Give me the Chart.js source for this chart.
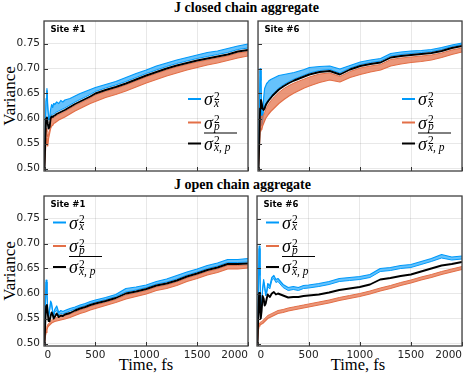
<!DOCTYPE html>
<html><head><meta charset="utf-8">
<script src="https://cdn.jsdelivr.net/npm/chart.js@4.4.1/dist/chart.umd.min.js"></script>
<style>
html,body{margin:0;padding:0;background:#fff;}
#wrap{position:relative;width:464px;height:376px;overflow:hidden;background:#fff;}
#wrap canvas{position:absolute;}
.t{position:absolute;white-space:nowrap;color:#000;font-family:"Liberation Serif","DejaVu Serif",serif;}
</style></head><body><div id="wrap">
<div class="t" style="left:146.5px;width:200px;text-align:center;top:1px;font-size:14px;line-height:14px;font-weight:bold">J closed chain aggregate</div>
<div class="t" style="left:142.5px;width:200px;text-align:center;top:177.5px;font-size:14px;line-height:14px;font-weight:bold">J open chain aggregate</div>
<div class="t" style="left:9px;top:96px;font-size:17px;line-height:17px;transform:translate(-50%,-50%) rotate(-90deg)">Variance</div>
<div class="t" style="left:9px;top:271px;font-size:17px;line-height:17px;transform:translate(-50%,-50%) rotate(-90deg)">Variance</div>
<div class="t" style="left:46px;width:200px;text-align:center;top:357px;font-size:16.5px;line-height:16.5px">Time, fs</div>
<div class="t" style="left:258px;width:200px;text-align:center;top:357px;font-size:16.5px;line-height:16.5px">Time, fs</div>
</div>
<script>
// time axis (fs)
const T = [0,8,16,24,32,40, 50,60,70,80,90,100, 120,140,160,180,200, 250,300,350,400,450,500,
  600,700,800,900,1000,1100,1200,1300,1400,1500,1600,1700,1800,1900,2000, 2030];
const XTICKS = [0,500,1000,1500,2000];
const YTICKS = [0.50,0.55,0.60,0.65,0.70,0.75];

// J closed chain, Site #1
const tlMean = [0.500,0.560,0.600,0.602,0.590,0.580, 0.583,0.600,0.604,0.603,0.605,0.606, 0.609,0.611,0.613,0.615,0.617, 0.623,0.629,0.634,0.639,0.644,0.650,
  0.657,0.663,0.670,0.678,0.686,0.693,0.700,0.706,0.711,0.716,0.720,0.724,0.728,0.734,0.737, 0.738];
const tlBlueHi = [0.500,0.580,0.640,0.660,0.625,0.600, 0.603,0.618,0.628,0.622,0.630,0.628, 0.633,0.630,0.636,0.633,0.637, 0.640,0.645,0.650,0.654,0.658,0.662,
  0.668,0.674,0.682,0.690,0.697,0.705,0.711,0.717,0.722,0.727,0.732,0.735,0.740,0.745,0.749, 0.750];
const tlBlueLo = [0.500,0.576,0.636,0.656,0.621,0.597, 0.598,0.605,0.608,0.607,0.609,0.610, 0.613,0.615,0.617,0.619,0.621, 0.627,0.633,0.638,0.643,0.648,0.654,
  0.661,0.667,0.674,0.682,0.690,0.697,0.704,0.710,0.715,0.720,0.724,0.728,0.732,0.738,0.741, 0.742];
const tlOrangeHi = [0.500,0.550,0.580,0.572,0.563,0.570, 0.578,0.596,0.601,0.600,0.602,0.603, 0.606,0.608,0.610,0.612,0.614, 0.620,0.626,0.631,0.636,0.641,0.647,
  0.654,0.660,0.667,0.675,0.683,0.690,0.697,0.703,0.708,0.713,0.717,0.721,0.725,0.731,0.734, 0.735];
const tlOrangeLo = [0.500,0.530,0.560,0.548,0.545,0.560, 0.570,0.580,0.585,0.586,0.590,0.591, 0.594,0.597,0.599,0.601,0.603, 0.609,0.615,0.620,0.625,0.630,0.634,
  0.642,0.648,0.655,0.663,0.671,0.678,0.685,0.691,0.697,0.702,0.707,0.711,0.716,0.721,0.725, 0.726];

// J closed chain, Site #6
const trMean = [0.500,0.560,0.620,0.637,0.630,0.620, 0.617,0.620,0.626,0.630,0.633,0.636, 0.641,0.646,0.650,0.654,0.658, 0.665,0.671,0.676,0.680,0.684,0.688,
  0.693,0.695,0.688,0.698,0.705,0.709,0.712,0.722,0.725,0.727,0.729,0.731,0.735,0.741,0.745, 0.746];
const trBlueHi = [0.500,0.600,0.700,0.680,0.590,0.600, 0.640,0.660,0.665,0.670,0.672,0.675, 0.678,0.680,0.682,0.684,0.686, 0.688,0.690,0.692,0.695,0.698,0.702,
  0.704,0.705,0.699,0.706,0.713,0.717,0.720,0.730,0.733,0.735,0.736,0.738,0.742,0.747,0.751, 0.752];
const trBlueLo = [0.500,0.596,0.696,0.676,0.586,0.594, 0.622,0.623,0.629,0.633,0.636,0.639, 0.644,0.649,0.653,0.657,0.661, 0.668,0.674,0.679,0.683,0.687,0.691,
  0.696,0.698,0.691,0.701,0.708,0.712,0.715,0.725,0.728,0.730,0.732,0.734,0.738,0.744,0.748, 0.749];
const trOrangeHi = [0.500,0.545,0.585,0.600,0.605,0.605, 0.607,0.612,0.618,0.622,0.626,0.629, 0.635,0.640,0.644,0.648,0.652, 0.660,0.666,0.671,0.675,0.679,0.683,
  0.689,0.691,0.684,0.694,0.701,0.705,0.708,0.718,0.721,0.723,0.725,0.727,0.731,0.737,0.741, 0.742];
const trOrangeLo = [0.500,0.540,0.575,0.580,0.578,0.585, 0.590,0.595,0.600,0.603,0.606,0.609, 0.614,0.618,0.622,0.626,0.630, 0.638,0.645,0.651,0.656,0.661,0.665,
  0.672,0.677,0.673,0.682,0.688,0.693,0.697,0.705,0.709,0.712,0.714,0.717,0.722,0.728,0.733, 0.734];

// J open chain, Site #1
const blMean = [0.500,0.545,0.575,0.577,0.560,0.545, 0.545,0.555,0.562,0.558,0.550,0.553, 0.560,0.553,0.556,0.555,0.558, 0.561,0.566,0.570,0.573,0.577,0.580,
  0.585,0.591,0.600,0.604,0.609,0.616,0.620,0.626,0.634,0.640,0.647,0.652,0.659,0.659,0.660, 0.662];
const blBlueHi = [0.500,0.580,0.627,0.600,0.565,0.555, 0.568,0.585,0.580,0.565,0.557,0.568, 0.575,0.562,0.566,0.564,0.566, 0.570,0.573,0.577,0.580,0.584,0.587,
  0.592,0.598,0.610,0.613,0.617,0.624,0.629,0.636,0.643,0.649,0.656,0.661,0.668,0.668,0.670, 0.672];
const blBlueLo = [0.500,0.577,0.623,0.597,0.562,0.552, 0.565,0.582,0.577,0.562,0.554,0.562, 0.566,0.557,0.560,0.559,0.561, 0.565,0.569,0.573,0.576,0.580,0.583,
  0.588,0.594,0.603,0.607,0.612,0.619,0.623,0.629,0.637,0.643,0.650,0.655,0.662,0.662,0.663, 0.665];
const blOrangeHi = [0.500,0.518,0.528,0.534,0.538,0.540, 0.542,0.545,0.547,0.548,0.549,0.550, 0.552,0.553,0.554,0.555,0.556, 0.559,0.563,0.567,0.570,0.574,0.577,
  0.582,0.588,0.597,0.601,0.606,0.613,0.617,0.623,0.631,0.637,0.644,0.649,0.656,0.656,0.657, 0.659];
const blOrangeLo = [0.500,0.515,0.522,0.528,0.533,0.535, 0.537,0.539,0.541,0.542,0.543,0.544, 0.545,0.546,0.547,0.548,0.549, 0.552,0.556,0.560,0.563,0.567,0.570,
  0.576,0.582,0.589,0.594,0.599,0.606,0.610,0.616,0.624,0.630,0.637,0.642,0.649,0.649,0.651, 0.652];

// J open chain, Site #6
const brMean = [0.500,0.560,0.601,0.570,0.550,0.565, 0.595,0.590,0.576,0.580,0.590,0.598, 0.593,0.600,0.603,0.598,0.600, 0.596,0.592,0.593,0.593,0.595,0.596,
  0.598,0.602,0.607,0.610,0.613,0.618,0.628,0.631,0.635,0.638,0.644,0.650,0.656,0.659,0.663, 0.662];
const brBlueHi = [0.500,0.600,0.695,0.640,0.565,0.575, 0.610,0.628,0.615,0.600,0.605,0.620, 0.615,0.632,0.636,0.628,0.630, 0.618,0.612,0.614,0.612,0.616,0.617,
  0.620,0.624,0.630,0.632,0.634,0.638,0.650,0.652,0.656,0.658,0.664,0.670,0.678,0.673,0.675, 0.672];
const brBlueLo = [0.500,0.597,0.690,0.636,0.561,0.571, 0.606,0.623,0.610,0.595,0.600,0.614, 0.609,0.626,0.630,0.622,0.624, 0.612,0.606,0.608,0.606,0.610,0.611,
  0.614,0.618,0.624,0.626,0.628,0.632,0.644,0.646,0.650,0.652,0.658,0.664,0.671,0.667,0.669, 0.666];
const brOrangeHi = [0.500,0.530,0.540,0.542,0.543,0.544, 0.545,0.548,0.550,0.552,0.554,0.556, 0.558,0.560,0.562,0.564,0.566, 0.568,0.571,0.573,0.575,0.577,0.579,
  0.583,0.587,0.592,0.596,0.600,0.605,0.611,0.616,0.622,0.627,0.633,0.638,0.644,0.649,0.654, 0.655];
const brOrangeLo = [0.500,0.526,0.535,0.537,0.538,0.539, 0.540,0.542,0.544,0.546,0.548,0.550, 0.552,0.554,0.556,0.558,0.560, 0.562,0.565,0.567,0.569,0.571,0.573,
  0.577,0.581,0.586,0.590,0.594,0.599,0.605,0.610,0.616,0.621,0.627,0.632,0.638,0.643,0.648, 0.649];

const BLUE = '#009AFA', ORANGE = '#E36F47', GRID = 'rgba(0,0,0,0.09)';
const BLUE_FILL = 'rgba(0,154,250,0.6)', ORANGE_FILL = 'rgba(227,111,71,0.72)';
const XMIN = -5, XMAX = 2000, YMIN = 0.495, YMAX = 0.795;

const panels = [
  {left:0,   top:0,   w:250, h:175, yw:44, xh:4,  pt:21, yl:true,  xl:false, site:'Site #1', leg:[188,99],
   s:[tlBlueHi,tlBlueLo,tlOrangeHi,tlOrangeLo,tlMean]},
  {left:250, top:0,   w:214, h:175, yw:8,  xh:4,  pt:21, yl:false, xl:false, site:'Site #6', leg:[402,99],
   s:[trBlueHi,trBlueLo,trOrangeHi,trOrangeLo,trMean]},
  {left:0,   top:180, w:250, h:196, yw:44, xh:30, pt:16, yl:true,  xl:true,  site:'Site #1', leg:[53,222.5],
   s:[blBlueHi,blBlueLo,blOrangeHi,blOrangeLo,blMean]},
  {left:250, top:180, w:214, h:196, yw:7,  xh:30, pt:16, yl:false, xl:true,  site:'Site #6', leg:[266,222.5],
   s:[brBlueHi,brBlueLo,brOrangeHi,brOrangeLo,brMean]}
];

function drawDeco(chart, p){
  const ctx = chart.ctx, a = chart.chartArea, x = chart.scales.x, y = chart.scales.y;
  ctx.save();
  ctx.strokeStyle = '#333'; ctx.lineWidth = 1;
  ctx.beginPath();
  YTICKS.forEach(v => { const py = Math.round(y.getPixelForValue(v)) + 0.5; ctx.moveTo(a.left, py); ctx.lineTo(a.left + 4, py); });
  XTICKS.forEach(v => { const px = Math.round(x.getPixelForValue(v)) + 0.5; ctx.moveTo(px, a.bottom); ctx.lineTo(px, a.bottom - 4); });
  ctx.stroke();
  ctx.lineWidth = 1.3; ctx.strokeStyle = '#404040';
  ctx.strokeRect(a.left, a.top, a.right - a.left, a.bottom - a.top);
  ctx.fillStyle = '#000'; ctx.textAlign = 'left'; ctx.textBaseline = 'alphabetic';
  ctx.font = 'bold 8.5px "DejaVu Sans"';
  ctx.fillText(p.site, a.left + 6.5, a.top + 11.3);
  const lx = p.leg[0] - p.left, ly = p.leg[1] - p.top;
  const items = [[BLUE, 'x', 0], [ORANGE, 'p', 23.5], ['#000', 'x, p', 44.5]];
  items.forEach((it, i) => {
    const yy = ly + it[2];
    ctx.strokeStyle = it[0]; ctx.lineWidth = 2;
    ctx.beginPath(); ctx.moveTo(lx, yy); ctx.lineTo(lx + 13, yy); ctx.stroke();
    const tx = lx + 16;
    ctx.fillStyle = '#000';
    ctx.font = 'italic 18px "Liberation Serif"';
    ctx.fillText('σ', tx, yy + 6.3);
    const w = ctx.measureText('σ').width;
    ctx.font = '11.5px "Liberation Serif"';
    ctx.fillText('2', tx + w + 1, yy + 0.8);
    ctx.font = 'italic 11.5px "Liberation Serif"';
    ctx.fillText(it[1], tx + w + 1, yy + 7.6);
    if (i === 2) {
      ctx.strokeStyle = '#000'; ctx.lineWidth = 1;
      ctx.beginPath(); ctx.moveTo(tx, yy - 10.5); ctx.lineTo(tx + 33, yy - 10.5); ctx.stroke();
    }
  });
  ctx.restore();
}

function makePanel(p){
  const c = document.createElement('canvas');
  c.width = p.w; c.height = p.h;
  c.style.left = p.left + 'px'; c.style.top = p.top + 'px';
  c.style.width = p.w + 'px'; c.style.height = p.h + 'px';
  document.getElementById('wrap').appendChild(c);
  const pts = arr => arr.map((v, i) => ({x: T[i], y: v}));
  const tickFont = {family: 'DejaVu Sans', size: 10.5};
  new Chart(c, {
    type: 'line',
    data: {datasets: [
      {label: 'σx² (peaks)', data: pts(p.s[0]), borderColor: BLUE, backgroundColor: BLUE_FILL, borderWidth: 1.2, fill: false, order: 3},
      {label: 'σx²', data: pts(p.s[1]), borderColor: BLUE, backgroundColor: BLUE_FILL, borderWidth: 1, fill: 0, order: 3},
      {label: 'σp² (peaks)', data: pts(p.s[2]), borderColor: ORANGE, backgroundColor: ORANGE_FILL, borderWidth: 1, fill: false, order: 2},
      {label: 'σp²', data: pts(p.s[3]), borderColor: ORANGE, backgroundColor: ORANGE_FILL, borderWidth: 1.2, fill: 2, order: 2},
      {label: 'mean σ²x,p', data: pts(p.s[4]), borderColor: '#000', borderWidth: 1.9, fill: false, order: 1}
    ]},
    options: {
      responsive: false, animation: false, devicePixelRatio: 1, events: [],
      layout: {padding: {left: 0, top: p.pt, right: 2, bottom: 0}},
      plugins: {legend: {display: false}, tooltip: {enabled: false}},
      elements: {point: {radius: 0}, line: {tension: 0, borderJoinStyle: 'round'}},
      scales: {
        x: {type: 'linear', min: XMIN, max: XMAX,
          afterBuildTicks: s => { s.ticks = XTICKS.map(v => ({value: v})); },
          afterFit: s => { s.height = p.xh; s.paddingLeft = 0; s.paddingRight = 0; s.paddingTop = 0; s.paddingBottom = 0; },
          ticks: {display: p.xl, align: 'inner', padding: 3, maxRotation: 0, autoSkip: false, color: '#222', font: tickFont, callback: v => String(v)},
          grid: {color: GRID, lineWidth: 1, drawTicks: false}, border: {display: false}},
        y: {type: 'linear', min: YMIN, max: YMAX,
          afterBuildTicks: s => { s.ticks = YTICKS.map(v => ({value: v})); },
          afterFit: s => { s.width = p.yw; s.paddingLeft = 0; s.paddingRight = 0; s.paddingTop = 0; s.paddingBottom = 0; },
          ticks: {display: p.yl, padding: 4, color: '#222', font: tickFont, callback: v => Number(v).toFixed(2)},
          grid: {color: GRID, lineWidth: 1, drawTicks: false}, border: {display: false}}
      }
    },
    plugins: [{id: 'deco', afterDraw: ch => drawDeco(ch, p)}]
  });
}
panels.forEach(makePanel);
</script>
</body></html>
